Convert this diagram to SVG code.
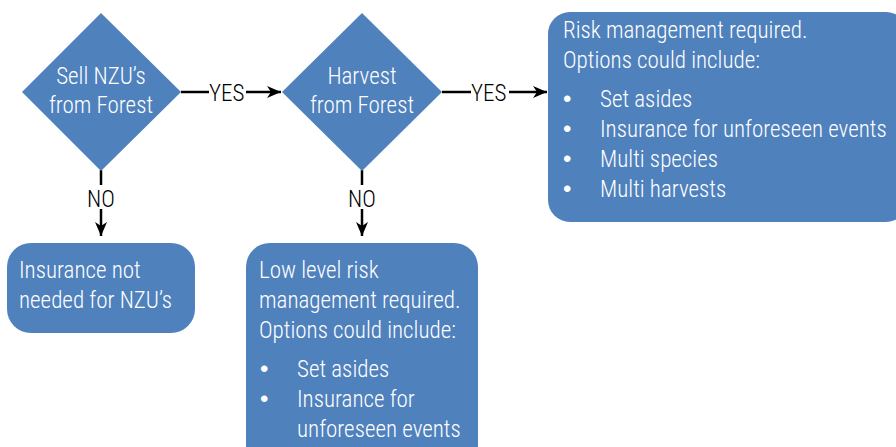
<svg xmlns="http://www.w3.org/2000/svg" width="896" height="447" viewBox="0 0 896 447">
<style>
.shape{fill:#4f81bd;}
.t{font-family:"Roboto Condensed","Liberation Sans Narrow","DejaVu Sans Condensed",sans-serif;font-size:23px;font-weight:300;fill:#ffffff;}
.b{font-family:"Liberation Sans",Arial,sans-serif;font-size:24px;fill:#ffffff;}
.c{text-anchor:middle;}
.lbl{font-family:"Roboto Condensed","Liberation Sans Narrow","DejaVu Sans Condensed",sans-serif;font-size:23px;font-weight:300;fill:#000000;}
.ln{stroke:#000;stroke-width:2.5;fill:none;}
</style>
<defs>
<marker id="ah" markerWidth="14" markerHeight="12" refX="14" refY="6" orient="auto" markerUnits="userSpaceOnUse" viewBox="0 0 14 12">
<path d="M0,0 L14,6 L0,12 L4,6 Z" fill="#000"/>
</marker>
</defs>
<g id="connectors">
<line class="ln" x1="181" y1="92" x2="209" y2="92"/>
<text class="lbl" x="209" y="101">YES</text>
<line class="ln" x1="246" y1="92" x2="281" y2="92" marker-end="url(#ah)"/>
<line class="ln" x1="442" y1="92" x2="471" y2="92"/>
<text class="lbl" x="471" y="101">YES</text>
<line class="ln" x1="509" y1="92" x2="547" y2="92" marker-end="url(#ah)"/>
<line class="ln" x1="101" y1="170" x2="101" y2="185"/>
<text class="lbl c" x="101" y="207">NO</text>
<line class="ln" x1="101" y1="209" x2="101" y2="236" marker-end="url(#ah)"/>
<line class="ln" x1="362" y1="170" x2="362" y2="185"/>
<text class="lbl c" x="362" y="207">NO</text>
<line class="ln" x1="362" y1="209" x2="362" y2="236" marker-end="url(#ah)"/>
</g>
<g id="sell">
<polygon class="shape" points="101,13 181,92 101,171 22,92"/>
<text class="t c" x="101" y="84">Sell NZU’s</text>
<text class="t c" x="101" y="113">from Forest</text>
</g>
<g id="harvest">
<polygon class="shape" points="362,13 442,92 362,171 282,92"/>
<text class="t c" x="362" y="84">Harvest</text>
<text class="t c" x="362" y="113">from Forest</text>
</g>
<g id="risk">
<rect class="shape" x="548" y="12" width="360" height="210" rx="22"/>
<text class="t" x="563" y="38">Risk management required.</text>
<text class="t" x="563" y="68">Options could include:</text>
<text class="b" x="563" y="107">•</text><text class="t" x="600" y="107">Set asides</text>
<text class="b" x="563" y="137">•</text><text class="t" x="600" y="137">Insurance for unforeseen events</text>
<text class="b" x="563" y="167">•</text><text class="t" x="600" y="167">Multi species</text>
<text class="b" x="563" y="197">•</text><text class="t" x="600" y="197">Multi harvests</text>
</g>
<g id="nzu">
<rect class="shape" x="7" y="243" width="188" height="90" rx="24"/>
<text class="t" x="19" y="278">Insurance not</text>
<text class="t" x="19" y="308">needed for NZU’s</text>
</g>
<g id="lowrisk">
<rect class="shape" x="246" y="243" width="232" height="230" rx="24"/>
<text class="t" x="259" y="278">Low level risk</text>
<text class="t" x="259" y="308">management required.</text>
<text class="t" x="259" y="338">Options could include:</text>
<text class="b" x="260" y="377">•</text><text class="t" x="297" y="377">Set asides</text>
<text class="b" x="260" y="407">•</text><text class="t" x="297" y="407">Insurance for</text>
<text class="t" x="297" y="437">unforeseen events</text>
</g>
</svg>
